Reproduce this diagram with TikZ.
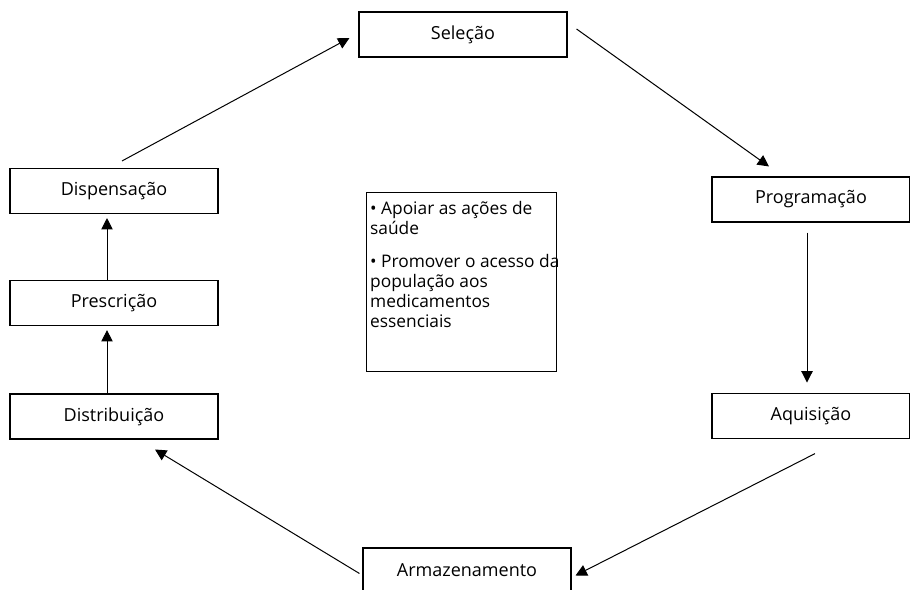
\documentclass[tikz,border=0pt]{standalone}
\usepackage{fontspec}
\setmainfont{Open Sans}
\usetikzlibrary{positioning, arrows.meta}

\begin{document}
\begin{tikzpicture}[
    x=0.75pt, y=-0.75pt,
    font=\fontsize{13.5}{15}\selectfont,
    box/.style={
        draw,
        line width=0.8pt,
        align=center,
        minimum width=156pt,
        minimum height=33.75pt
    },
    goalbox/.style={
        draw,
        line width=0.8pt,
        inner sep=3pt,
        font=\fontsize{13}{15}\selectfont
    },
    arrow/.style={
        -{Triangle[length=8.5pt, width=8.5pt]},
        line width=0.75pt
    }
]

\useasboundingbox (0,0) rectangle (910,589);

\node[box] (selecao) at (463,34.5) {Seleção};

\node[box, minimum width=148.5pt] (programacao) at (811,199.5) {Programação};

\node[box, minimum width=148.5pt, below=127.5pt of programacao] (aquisicao)
    {Aquisição};

\node[box] (armazenamento) at (467,570.5) {Armazenamento};

\node[box] (dispensacao) at (114,191) {Dispensação};

\node[box, below=49.5pt of dispensacao] (prescricao) {Prescrição};

\node[box, below=50.5pt of prescricao] (distribuicao) {Distribuição};

\node[goalbox] (objetivos) at (461.5,282)
    {\parbox[c][128pt][t]{137pt}{\raggedright
        \vspace*{3pt}\strut\mbox{\textbullet{} Apoiar as ações de}\\
        saúde\\[9.75pt]
        \mbox{\textbullet{} Promover o acesso da}\\
        população aos\\
        medicamentos\\
        essenciais}};

\draw[arrow] ([shift={(8,-7)}]dispensacao.north)
    -- ([shift={(-9,3.5)}]selecao.west);
\draw[arrow] ([shift={(9,-5.5)}]selecao.east)
    -- ([shift={(-42,-10)}]programacao.north);
\draw[arrow] ([shift={(-4,10)}]programacao.south)
    -- ([shift={(-4,-10)}]aquisicao.north);
\draw[arrow] ([shift={(4,15)}]aquisicao.south)
    -- ([shift={(4,5)}]armazenamento.east);
\draw[arrow] ([shift={(-3,3)}]armazenamento.west)
    -- ([shift={(41,10)}]distribuicao.south);
\draw[arrow] ([shift={(-7,0)}]distribuicao.north)
    -- ([shift={(-7,4)}]prescricao.south);
\draw[arrow] ([shift={(-7,0)}]prescricao.north)
    -- ([shift={(-7,4)}]dispensacao.south);

\end{tikzpicture}
\end{document}
